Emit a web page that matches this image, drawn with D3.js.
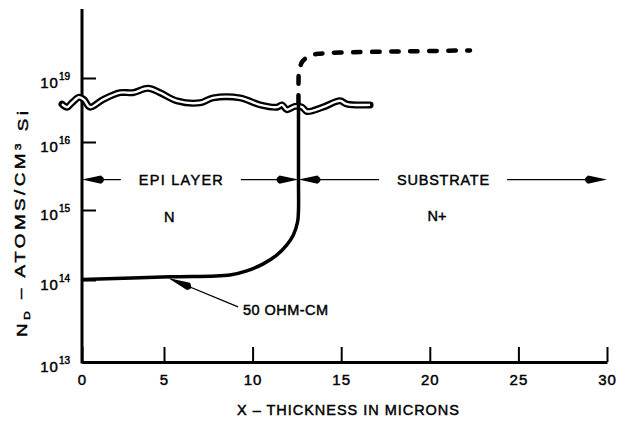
<!DOCTYPE html>
<html><head><meta charset="utf-8">
<script src="https://cdn.jsdelivr.net/npm/d3@7"></script>
<style>
html,body{margin:0;padding:0;background:#fff;}
svg{display:block;}
text{font-family:"Liberation Sans",Arial,Helvetica,sans-serif;fill:#000;stroke:#000;stroke-width:0.45px;}
</style></head><body>
<svg id="chart" width="618" height="421"></svg>
<script>
// ---------- data ----------
const xTickValues = [0, 5, 10, 15, 20, 25, 30];
const xTickLabels = ["0", "5", "10", "15", "20", "25", "30"];
const yTickValues = [1e13, 1e14, 1e15, 1e16, 1e17];
const yTickExponents = ["13", "14", "15", "16", "19"];

// wavy double line (epi layer band)
const epiX  = [-1.22, -0.91, -0.61, -0.18, 0.12, 0.49, 1.28, 2.32, 3.11, 4.02, 4.76, 5.73, 7.03, 7.77, 9.29, 10.42, 11.38, 11.66, 11.94, 12.39, 12.79, 13.07, 13.97, 14.93, 15.33, 16.63];
const epiND = [3.9e16, 3.5e16, 4.1e16, 5.0e16, 4.6e16, 3.5e16, 4.6e16, 5.9e16, 5.9e16, 6.9e16, 5.9e16, 4.4e16, 4.1e16, 4.9e16, 4.9e16, 3.8e16, 3.5e16, 3.8e16, 3.2e16, 3.6e16, 3.5e16, 3.0e16, 3.5e16, 4.4e16, 3.9e16, 3.8e16];

// 50 ohm-cm profile (solid)
const profileX  = [0, 5.34, 8.72, 9.67, 10.60, 11.36, 11.92, 12.30, 12.54, 12.59, 12.59, 12.59, 12.59];
const profileND = [1.02e14, 1.11e14, 1.18e14, 1.35e14, 1.70e14, 2.27e14, 3.16e14, 4.4e14, 6.8e14, 1.0e15, 2.5e15, 1.0e16, 4.1e16];

// substrate continuation (dashed)
const substrateX  = [12.59, 12.59, 12.62, 12.79, 13.07, 13.35, 13.80, 14.93, 18.32, 22.27];
const substrateND = [4.1e16, 7.8e16, 1.24e17, 1.78e17, 2.1e17, 2.3e17, 2.4e17, 2.5e17, 2.6e17, 2.7e17];

// annotations
const layerArrowND = 2.8e15;
const epiRange = [0, 12.59];
const substrateRange = [12.59, 30];
const epiLabel = "EPI LAYER", epiLabelX = 5.95;
const substrateLabel = "SUBSTRATE", substrateLabelX = 20.75;
const nLabel = "N", nLabelX = 5.3, nLabelND = 8.0e14;
const npLabel = "N+", npLabelX = 20.4, npLabelND = 8.3e14;
const ohmLabel = "50 OHM-CM", ohmLabelX = 9.46, ohmLabelND = 4.3e13;
const ohmLeaderFrom = [9.18, 4.7e13], ohmLeaderTo = [5.23, 1.07e14];
const xTitle = "X \u2013 THICKNESS IN MICRONS";

// ---------- scales ----------
const svg = d3.select("#chart");
const x = d3.scaleLinear().domain([0, 5, 30]).range([82, 164, 607]);
const y = d3.scaleLog().domain(yTickValues).range([362, 280, 210, 142, 78]);
const yAxisTop = 9;

// ---------- axes ----------
const gx = svg.append("g").attr("transform", `translate(0,${y(1e13)})`)
  .call(d3.axisBottom(x).tickValues(xTickValues).tickFormat((d, i) => xTickLabels[i])
        .tickSize(-15).tickSizeOuter(0).tickPadding(12));
gx.select(".domain").attr("stroke", "#000").attr("stroke-width", 3);
gx.selectAll(".tick line").attr("stroke", "#000").attr("stroke-width", 2);
gx.selectAll(".tick text").attr("font-size", 15).attr("letter-spacing", 1)
  .attr("font-family", '"Liberation Sans",Arial,sans-serif');

const gy = svg.append("g").attr("transform", `translate(${x(0)},0)`)
  .call(d3.axisLeft(y).tickValues(yTickValues).tickSize(-14).tickSizeOuter(0).tickPadding(12));
gy.select(".domain").remove();
gy.selectAll(".tick line").attr("stroke", "#000").attr("stroke-width", 2);
gy.selectAll(".tick text")
  .attr("font-family", '"Liberation Sans",Arial,sans-serif')
  .attr("font-size", 15).attr("dy", "0.62em")
  .each(function (d, i) {
    const t = d3.select(this);
    t.text(null);
    t.append("tspan").attr("letter-spacing", 1).text("10");
    t.append("tspan").attr("font-size", 10).attr("dy", "-0.8em").text(yTickExponents[i]);
  });
svg.append("line")
  .attr("x1", x(0)).attr("x2", x(0))
  .attr("y1", y(1e13) + 1.5).attr("y2", yAxisTop)
  .attr("stroke", "#000").attr("stroke-width", 3);

// ---------- curves ----------
const wavy = d3.line().x((d, i) => x(epiX[i])).y((d, i) => y(epiND[i])).curve(d3.curveCatmullRom.alpha(0.5));
svg.append("path").attr("d", wavy(epiX)).attr("fill", "none")
  .attr("stroke", "#000").attr("stroke-width", 7).attr("stroke-linejoin", "round").attr("stroke-linecap", "round");
svg.append("path").attr("d", wavy(epiX)).attr("fill", "none")
  .attr("stroke", "#fff").attr("stroke-width", 2.4).attr("stroke-linejoin", "round");

const prof = d3.line().x((d, i) => x(profileX[i])).y((d, i) => y(profileND[i])).curve(d3.curveCatmullRom.alpha(0.5));
svg.append("path").attr("d", prof(profileX)).attr("fill", "none")
  .attr("stroke", "#000").attr("stroke-width", 3.5).attr("stroke-linejoin", "round");

const sub = d3.line().x((d, i) => x(substrateX[i])).y((d, i) => y(substrateND[i])).curve(d3.curveCatmullRom.alpha(0.5));
svg.append("path").attr("d", sub(substrateX)).attr("fill", "none")
  .attr("stroke", "#000").attr("stroke-width", 4.5).attr("stroke-linecap", "round")
  .attr("stroke-dasharray", "7.5,11.5");

// ---------- annotations ----------
function arrowHead(tx, ty, ux, uy, L, w) {
  const nx = -uy, ny = ux;
  const bx = tx - ux * L, by = ty - uy * L;
  const cx = tx - ux * (L + 6), cy = ty - uy * (L + 6);
  svg.append("path")
    .attr("d", `M${tx},${ty}L${bx + nx * w},${by + ny * w}Q${cx},${cy} ${bx - nx * w},${by - ny * w}Z`)
    .attr("fill", "#000");
}
function label(txt, cx, cy, size, width) {
  const t = svg.append("text").attr("x", cx).attr("y", cy).attr("dy", "0.35em")
    .attr("text-anchor", "middle").attr("font-size", size).text(txt);
  if (width) t.attr("textLength", width).attr("lengthAdjust", "spacing");
  return t;
}
function rangeArrow(r, txt, lx, width) {
  const ay = y(layerArrowND);
  const x0 = x(r[0]), x1 = x(r[1]), cx = x(lx);
  label(txt, cx, ay, 14.5, width);
  const gap = 18;
  svg.append("line").attr("x1", x0 + 6).attr("x2", cx - width / 2 - gap).attr("y1", ay).attr("y2", ay)
    .attr("stroke", "#000").attr("stroke-width", 1.3);
  svg.append("line").attr("x1", cx + width / 2 + gap).attr("x2", x1 - 6).attr("y1", ay).attr("y2", ay)
    .attr("stroke", "#000").attr("stroke-width", 1.3);
  arrowHead(x0, ay, -1, 0, 19, 4.2);
  arrowHead(x1, ay, 1, 0, 19, 4.2);
}
rangeArrow(epiRange, epiLabel, epiLabelX, 84);
rangeArrow(substrateRange, substrateLabel, substrateLabelX, 92);

label(nLabel, x(nLabelX), y(nLabelND), 14.5);
label(npLabel, x(npLabelX), y(npLabelND), 14.5);

svg.append("text").attr("x", x(ohmLabelX)).attr("y", y(ohmLabelND)).attr("dy", "0.35em")
  .attr("font-size", 14.5).attr("textLength", 85).attr("lengthAdjust", "spacing").text(ohmLabel);
{
  const fx = x(ohmLeaderFrom[0]), fy = y(ohmLeaderFrom[1]);
  const tx = x(ohmLeaderTo[0]), ty = y(ohmLeaderTo[1]);
  const len = Math.hypot(tx - fx, ty - fy), ux = (tx - fx) / len, uy = (ty - fy) / len;
  svg.append("line").attr("x1", fx).attr("y1", fy).attr("x2", tx - ux * 8).attr("y2", ty - uy * 8)
    .attr("stroke", "#000").attr("stroke-width", 1.3);
  arrowHead(tx, ty, ux, uy, 22, 4);
}

// axis titles
svg.append("text").attr("x", 348).attr("y", 410).attr("dy", "0.35em").attr("text-anchor", "middle")
  .attr("font-size", 14.5).attr("textLength", 222).attr("lengthAdjust", "spacing").text(xTitle);

const yt = svg.append("text").attr("transform", "translate(22,224) rotate(-90) scale(1.3,1)")
  .attr("text-anchor", "middle").attr("dy", "0.35em").attr("font-size", 14.5)
  .attr("textLength", 226 / 1.3).attr("lengthAdjust", "spacing");
yt.append("tspan").text("N");
yt.append("tspan").attr("font-size", 9.5).attr("dy", "0.35em").text("D");
yt.append("tspan").attr("dy", "-0.35em").text(" \u2013 ATOMS/CM");
yt.append("tspan").attr("font-size", 9.5).attr("dy", "-0.5em").text("3");
yt.append("tspan").attr("dy", "0.5em").text(" Si");
</script>
</body></html>
